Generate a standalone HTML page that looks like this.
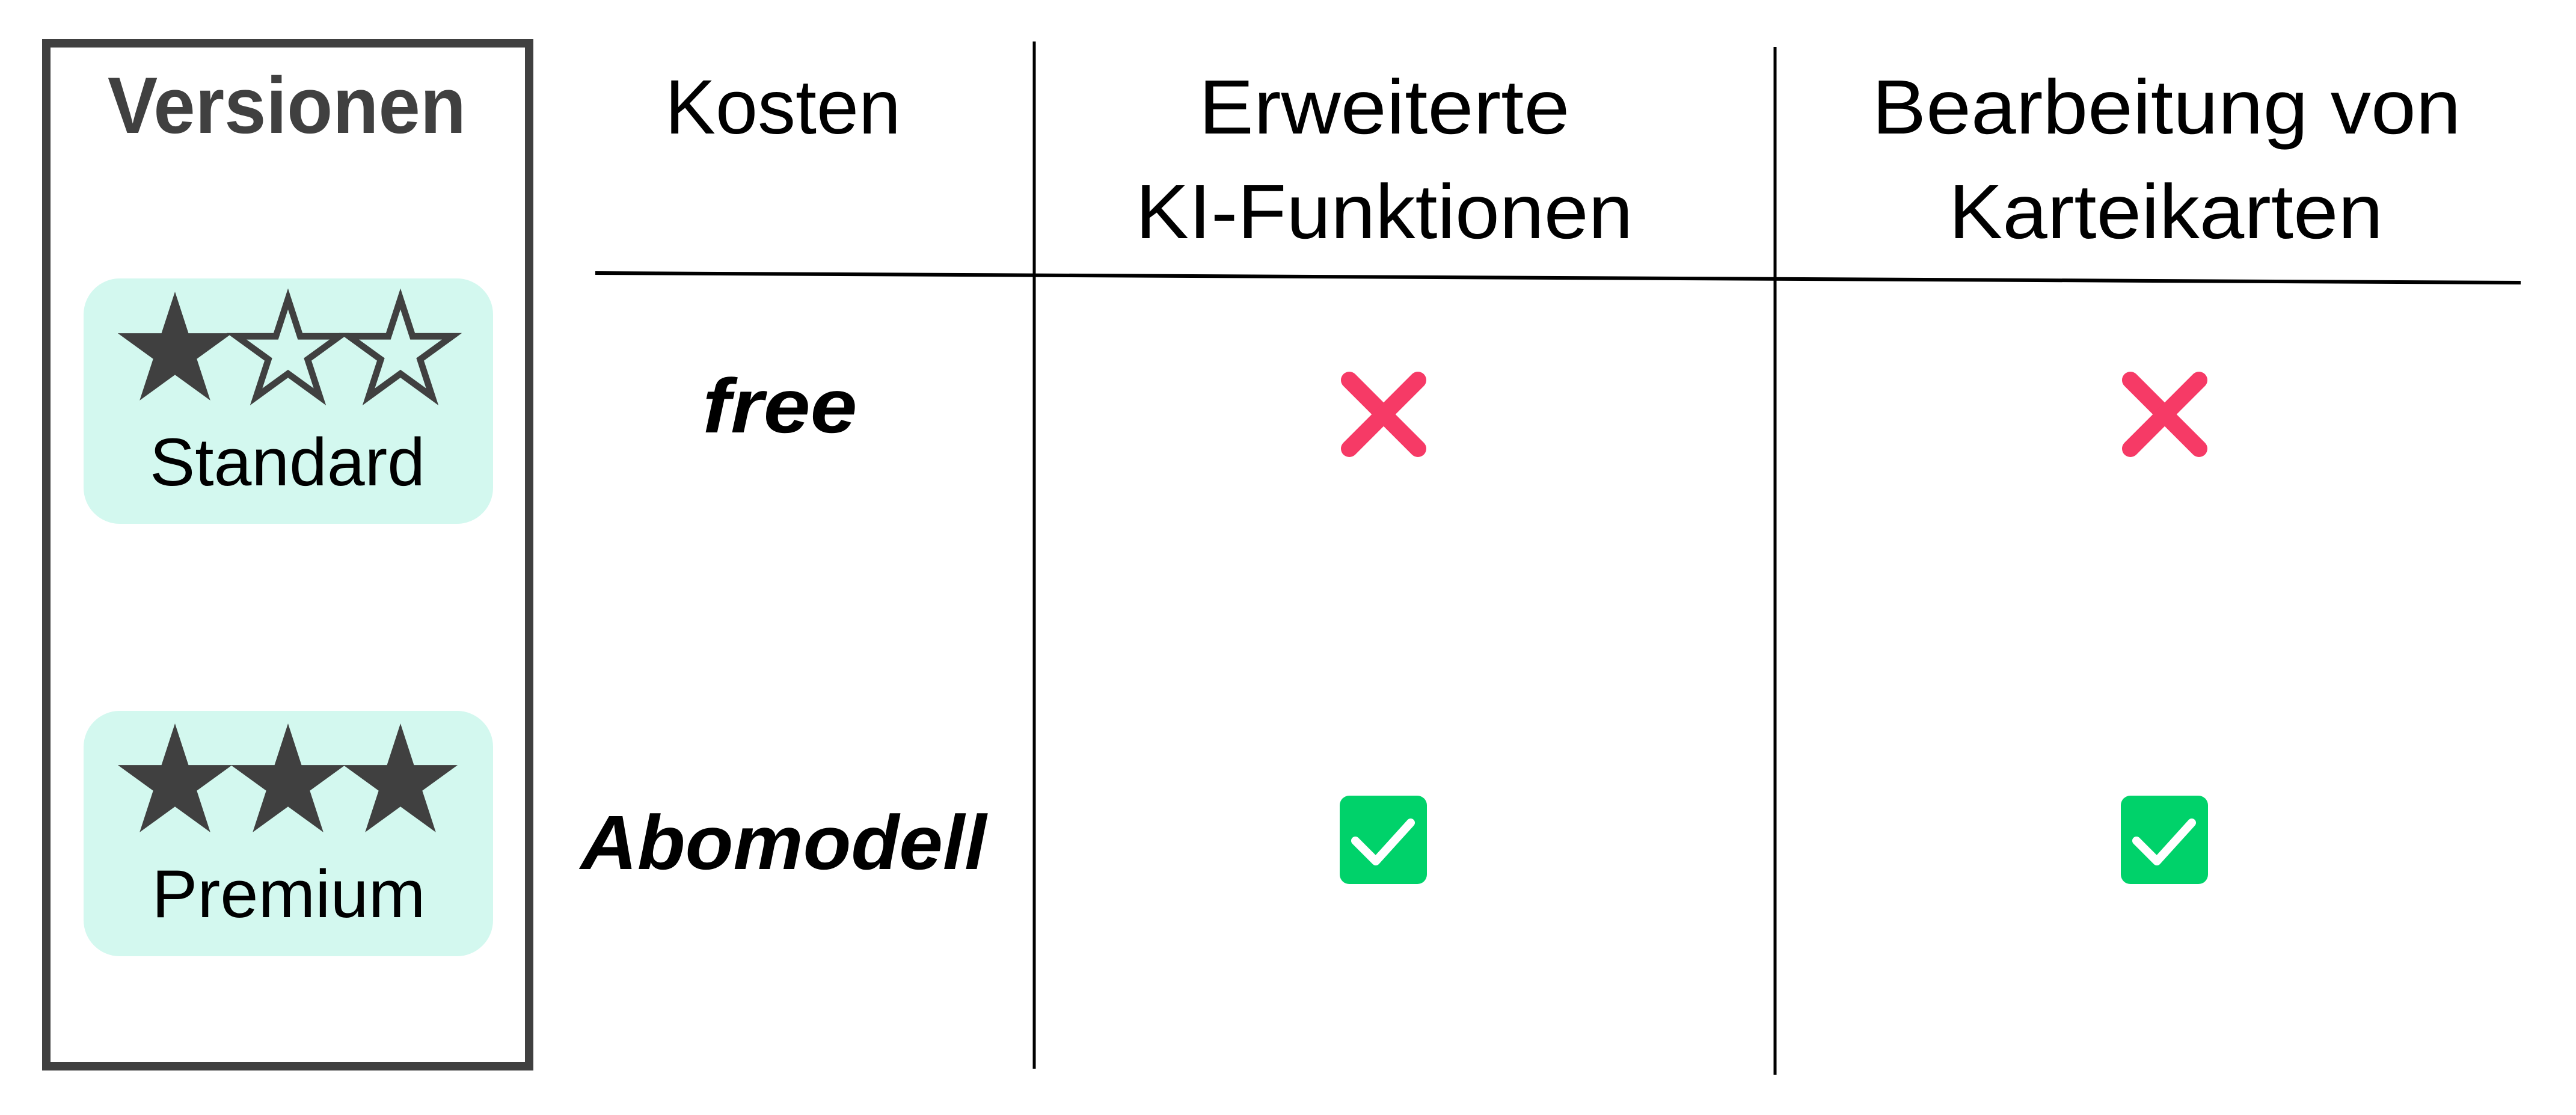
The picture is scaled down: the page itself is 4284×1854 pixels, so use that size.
<!DOCTYPE html>
<html><head><meta charset="utf-8"><style>html,body{margin:0;padding:0;background:#fff}svg{display:block}</style></head>
<body>
<svg width="4284" height="1854" viewBox="0 0 4284 1854" xmlns="http://www.w3.org/2000/svg" font-family="Liberation Sans, sans-serif">
<defs>
<polygon id="star" points="0,-100 22.45,-30.9 95.1,-30.9 36.3,11.8 58.8,80.9 0,38.2 -58.8,80.9 -36.3,11.8 -95.1,-30.9 -22.45,-30.9"/>
</defs>
<rect x="77" y="72" width="803" height="1701" fill="none" stroke="#404040" stroke-width="14"/>
<text x="477" y="221" text-anchor="middle" font-weight="bold" font-size="133" fill="#404040" textLength="596" lengthAdjust="spacingAndGlyphs">Versionen</text>
<rect x="139" y="463" width="681" height="408" rx="60" fill="#d3f8ef"/>
<rect x="139" y="1182" width="681" height="408" rx="60" fill="#d3f8ef"/>
<g fill="#404040">
<use href="#star" x="291" y="585"/>
<use href="#star" x="291" y="1303"/><use href="#star" x="479" y="1303"/><use href="#star" x="666" y="1303"/>
</g>
<g fill="none" stroke="#404040" stroke-width="12" stroke-linejoin="miter">
<polygon transform="translate(479,587) scale(0.9)" points="0,-100 22.45,-30.9 95.1,-30.9 36.3,11.8 58.8,80.9 0,38.2 -58.8,80.9 -36.3,11.8 -95.1,-30.9 -22.45,-30.9"/>
<polygon transform="translate(666,587) scale(0.9)" points="0,-100 22.45,-30.9 95.1,-30.9 36.3,11.8 58.8,80.9 0,38.2 -58.8,80.9 -36.3,11.8 -95.1,-30.9 -22.45,-30.9"/>
</g>
<text x="478" y="807" text-anchor="middle" font-size="112" fill="#000" textLength="458" lengthAdjust="spacingAndGlyphs">Standard</text>
<text x="480" y="1525" text-anchor="middle" font-size="112" fill="#000" textLength="455" lengthAdjust="spacingAndGlyphs">Premium</text>
<line x1="1720" y1="69" x2="1720" y2="1777" stroke="#000" stroke-width="5"/>
<line x1="2952" y1="78" x2="2952" y2="1787" stroke="#000" stroke-width="5"/>
<line x1="990" y1="454" x2="4192" y2="470" stroke="#000" stroke-width="6"/>
<g font-size="128" fill="#000" text-anchor="middle">
<text x="1302" y="222" textLength="392" lengthAdjust="spacingAndGlyphs">Kosten</text>
<text x="2302" y="222" textLength="617" lengthAdjust="spacingAndGlyphs">Erweiterte</text>
<text x="2302" y="396" textLength="827" lengthAdjust="spacingAndGlyphs">KI-Funktionen</text>
<text x="3603" y="222" textLength="979" lengthAdjust="spacingAndGlyphs">Bearbeitung von</text>
<text x="3602" y="396" textLength="722" lengthAdjust="spacingAndGlyphs">Karteikarten</text>
</g>
<g font-size="128" fill="#000" text-anchor="middle" font-weight="bold" font-style="italic">
<text x="1297" y="719" textLength="257" lengthAdjust="spacingAndGlyphs">free</text>
<text x="1303" y="1445" textLength="675" lengthAdjust="spacingAndGlyphs">Abomodell</text>
</g>
<g stroke="#f63a66" stroke-width="28" stroke-linecap="round">
<line x1="2244" y1="632" x2="2358" y2="746"/><line x1="2358" y1="632" x2="2244" y2="746"/>
<line x1="3543" y1="632" x2="3657" y2="746"/><line x1="3657" y1="632" x2="3543" y2="746"/>
</g>
<rect x="2228" y="1323" width="145" height="147" rx="16" fill="#00d26a"/>
<rect x="3527" y="1323" width="145" height="147" rx="16" fill="#00d26a"/>
<g fill="none" stroke="#fff" stroke-width="14" stroke-linecap="round" stroke-linejoin="round">
<polyline points="2254,1398 2288,1432 2346,1368"/>
<polyline points="3553,1398 3587,1432 3645,1368"/>
</g>
</svg>
</body></html>
